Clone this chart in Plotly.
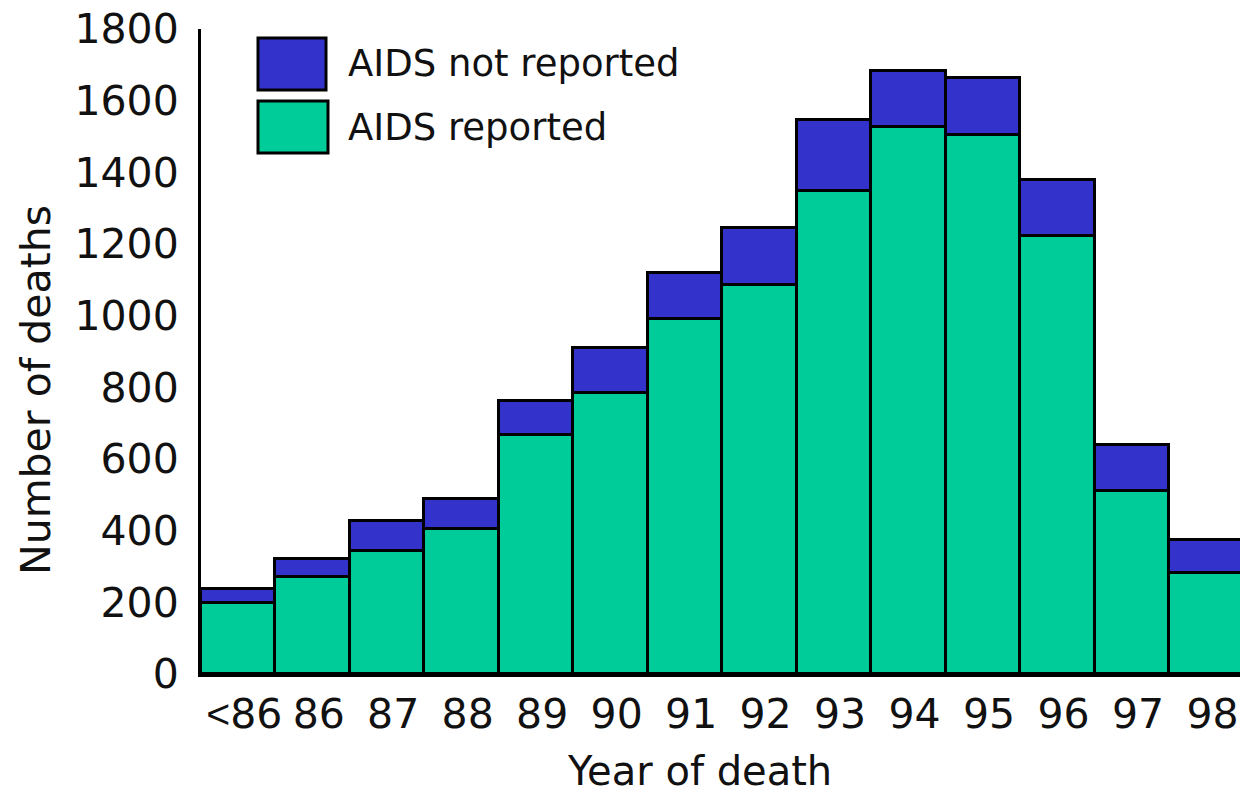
import plotly.graph_objects as go

# Data
years = ["<86", "86", "87", "88", "89", "90", "91", "92", "93", "94", "95", "96", "97", "98"]
aids_reported = [197, 271, 344, 406, 668, 783, 991, 1086, 1348, 1527, 1504, 1223, 512, 281]
aids_not_reported = [41, 51, 84, 83, 95, 126, 128, 158, 199, 156, 158, 156, 126, 94]
y_ticks = [0, 200, 400, 600, 800, 1000, 1200, 1400, 1600, 1800]

GREEN = "#00CC99"
BLUE = "#3333CC"
FONT = "DejaVu Sans"
TXT = "#111111"
FS = 41
FS_LEG = 37

# tick text: render the "<" sign with a narrower glyph
tick_text = [y.replace("<", "<span style='font-family:Liberation Sans'>&lt;</span>") for y in years]

fig = go.Figure()
fig.add_trace(go.Bar(x=years, y=aids_reported, name="AIDS reported",
                     marker=dict(color=GREEN, line=dict(color="black", width=3))))
fig.add_trace(go.Bar(x=years, y=aids_not_reported, name="AIDS not reported",
                     marker=dict(color=BLUE, line=dict(color="black", width=3))))

W, H = 1240, 795
L, R, T, B = 201, 0, 29, 121
pw, ph = W - L - R, H - T - B

def px(x):  # page pixel -> paper
    return (x - L) / pw

def py(y):
    return (H - B - y) / ph

shapes = [
    dict(type="rect", xref="paper", yref="paper", x0=px(258), x1=px(326), y0=py(90), y1=py(38),
         fillcolor=BLUE, line=dict(color="black", width=3)),
    dict(type="rect", xref="paper", yref="paper", x0=px(258), x1=px(328), y0=py(153), y1=py(101),
         fillcolor=GREEN, line=dict(color="black", width=3)),
]
annotations = [
    dict(text="AIDS not reported", xref="paper", yref="paper", x=px(346), y=py(64),
         xanchor="left", yanchor="middle", showarrow=False, font=dict(family=FONT, size=FS_LEG, color=TXT)),
    dict(text="AIDS reported", xref="paper", yref="paper", x=px(346), y=py(128),
         xanchor="left", yanchor="middle", showarrow=False, font=dict(family=FONT, size=FS_LEG, color=TXT)),
    dict(text="Year of death", xref="paper", yref="paper", x=px(699), y=py(771),
         xanchor="center", yanchor="middle", showarrow=False, font=dict(family=FONT, size=40, color=TXT)),
    dict(text="Number of deaths", xref="paper", yref="paper", x=px(36), y=py(390), textangle=-90,
         xanchor="center", yanchor="middle", showarrow=False, font=dict(family=FONT, size=FS, color=TXT)),
]

fig.update_layout(
    width=W, height=H, autosize=False,
    margin=dict(l=L, r=R, t=T, b=B, pad=0, autoexpand=False),
    barmode="stack", bargap=0,
    plot_bgcolor="white", paper_bgcolor="white",
    showlegend=False, hovermode=False,
    font=dict(family=FONT, size=FS, color=TXT),
    shapes=shapes, annotations=annotations,
    xaxis=dict(range=[-0.5, 13.45], tickvals=years, ticktext=tick_text,
               showgrid=False, zeroline=False, showline=True, automargin=False,
               linecolor="black", linewidth=3, ticks="", ticklabelstandoff=2, ticklabelshift=6,
               tickfont=dict(family=FONT, size=FS, color=TXT), fixedrange=True),
    yaxis=dict(range=[0, 1800], tickvals=y_ticks, showgrid=False, zeroline=False, showline=True,
               automargin=False, linecolor="black", linewidth=3, ticks="", ticklabelstandoff=11,
               ticklabeloverflow="allow",
               tickfont=dict(family=FONT, size=FS, color=TXT), fixedrange=True),
)

fig.write_html("out.html", config={"displayModeBar": False},
               post_script="document.body.style.margin='0';document.body.style.padding='0';")
